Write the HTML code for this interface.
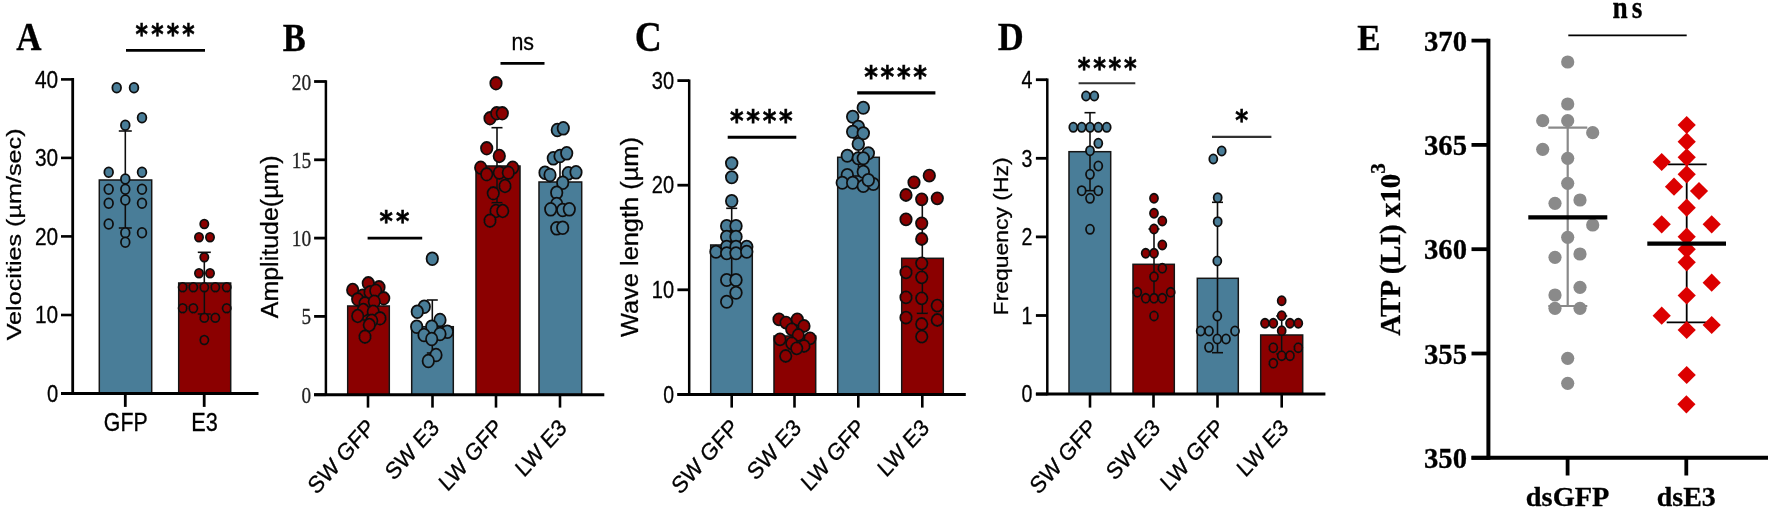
<!DOCTYPE html>
<html><head><meta charset="utf-8"><title>Figure</title>
<style>html,body{margin:0;padding:0;background:#fff}svg{display:block}</style>
</head><body>
<svg width="1772" height="510" viewBox="0 0 1772 510">
<defs><filter id="soft" x="0" y="0" width="1772" height="510" filterUnits="userSpaceOnUse"><feGaussianBlur stdDeviation="0.45"/></filter></defs>
<rect x="0" y="0" width="1772" height="510" fill="#ffffff"/>
<g filter="url(#soft)">
<text transform="translate(16.26 50.00) scale(0.3503 0.4075)" font-size="100" font-family='"Liberation Serif", serif' font-weight="bold" fill="#000" stroke="#000" stroke-width="0.79">A</text>
<text transform="translate(135.53 44.48) scale(0.812 1)" font-size="29.07" font-weight="bold" font-family='"DejaVu Sans", "Liberation Sans", sans-serif' letter-spacing="4.01" stroke="#000" stroke-width="0.6">****</text>
<line x1="126.0" y1="50.4" x2="205.0" y2="50.4" stroke="#000" stroke-width="2.9"/>
<text transform="translate(20.97 340.31) rotate(-90) scale(0.2519 0.1942)" font-size="100" font-family='"Liberation Sans", sans-serif' fill="#000" stroke="#000" stroke-width="1.35">Velocities (µm/sec)</text>
<line x1="61.0" y1="393.5" x2="72.7" y2="393.5" stroke="#000" stroke-width="2.6"/>
<text x="58.2" y="401.7" font-size="23" font-family='"Liberation Sans", sans-serif' text-anchor="end" textLength="11.2" lengthAdjust="spacingAndGlyphs" fill="#000" stroke="#000" stroke-width="0.3">0</text>
<line x1="61.0" y1="315.0" x2="72.7" y2="315.0" stroke="#000" stroke-width="2.6"/>
<text x="58.2" y="323.2" font-size="23" font-family='"Liberation Sans", sans-serif' text-anchor="end" textLength="23.2" lengthAdjust="spacingAndGlyphs" fill="#000" stroke="#000" stroke-width="0.3">10</text>
<line x1="61.0" y1="236.4" x2="72.7" y2="236.4" stroke="#000" stroke-width="2.6"/>
<text x="58.2" y="244.6" font-size="23" font-family='"Liberation Sans", sans-serif' text-anchor="end" textLength="23.2" lengthAdjust="spacingAndGlyphs" fill="#000" stroke="#000" stroke-width="0.3">20</text>
<line x1="61.0" y1="157.9" x2="72.7" y2="157.9" stroke="#000" stroke-width="2.6"/>
<text x="58.2" y="166.1" font-size="23" font-family='"Liberation Sans", sans-serif' text-anchor="end" textLength="23.2" lengthAdjust="spacingAndGlyphs" fill="#000" stroke="#000" stroke-width="0.3">30</text>
<line x1="61.0" y1="79.4" x2="72.7" y2="79.4" stroke="#000" stroke-width="2.6"/>
<text x="58.2" y="87.6" font-size="23" font-family='"Liberation Sans", sans-serif' text-anchor="end" textLength="23.2" lengthAdjust="spacingAndGlyphs" fill="#000" stroke="#000" stroke-width="0.3">40</text>
<rect x="99.3" y="180.0" width="52.4" height="213.5" fill="#4a7d98" stroke="#151515" stroke-width="1.5"/>
<rect x="178.7" y="283.0" width="52.0" height="110.5" fill="#8b0000" stroke="#151515" stroke-width="1.5"/>
<line x1="125.3" y1="131.0" x2="125.3" y2="228.0" stroke="#111" stroke-width="1.6"/>
<line x1="118.8" y1="131.0" x2="131.8" y2="131.0" stroke="#111" stroke-width="1.6"/>
<line x1="118.8" y1="228.0" x2="131.8" y2="228.0" stroke="#111" stroke-width="1.6"/>
<line x1="204.3" y1="252.3" x2="204.3" y2="314.0" stroke="#111" stroke-width="1.6"/>
<line x1="197.8" y1="252.3" x2="210.8" y2="252.3" stroke="#111" stroke-width="1.6"/>
<line x1="197.8" y1="314.0" x2="210.8" y2="314.0" stroke="#111" stroke-width="1.6"/>
<ellipse cx="116.7" cy="87.7" rx="4.35" ry="4.85" fill="#4a7d98" stroke="#111" stroke-width="1.8"/>
<ellipse cx="134.0" cy="87.7" rx="4.35" ry="4.85" fill="#4a7d98" stroke="#111" stroke-width="1.8"/>
<ellipse cx="142.0" cy="117.7" rx="4.35" ry="4.85" fill="#4a7d98" stroke="#111" stroke-width="1.8"/>
<ellipse cx="125.3" cy="125.3" rx="4.35" ry="4.85" fill="#4a7d98" stroke="#111" stroke-width="1.8"/>
<ellipse cx="108.7" cy="172.3" rx="4.35" ry="4.85" fill="#4a7d98" stroke="#111" stroke-width="1.8"/>
<ellipse cx="142.0" cy="172.3" rx="4.35" ry="4.85" fill="#4a7d98" stroke="#111" stroke-width="1.8"/>
<ellipse cx="125.3" cy="179.0" rx="4.35" ry="4.85" fill="#4a7d98" stroke="#111" stroke-width="1.8"/>
<ellipse cx="108.7" cy="189.3" rx="4.35" ry="4.85" fill="#4a7d98" stroke="#111" stroke-width="1.8"/>
<ellipse cx="125.3" cy="189.3" rx="4.35" ry="4.85" fill="#4a7d98" stroke="#111" stroke-width="1.8"/>
<ellipse cx="142.0" cy="189.3" rx="4.35" ry="4.85" fill="#4a7d98" stroke="#111" stroke-width="1.8"/>
<ellipse cx="108.7" cy="203.3" rx="4.35" ry="4.85" fill="#4a7d98" stroke="#111" stroke-width="1.8"/>
<ellipse cx="125.3" cy="200.0" rx="4.35" ry="4.85" fill="#4a7d98" stroke="#111" stroke-width="1.8"/>
<ellipse cx="142.0" cy="203.3" rx="4.35" ry="4.85" fill="#4a7d98" stroke="#111" stroke-width="1.8"/>
<ellipse cx="108.7" cy="224.0" rx="4.35" ry="4.85" fill="#4a7d98" stroke="#111" stroke-width="1.8"/>
<ellipse cx="142.0" cy="232.7" rx="4.35" ry="4.85" fill="#4a7d98" stroke="#111" stroke-width="1.8"/>
<ellipse cx="125.3" cy="232.7" rx="4.35" ry="4.85" fill="#4a7d98" stroke="#111" stroke-width="1.8"/>
<ellipse cx="125.3" cy="242.3" rx="4.35" ry="4.85" fill="#4a7d98" stroke="#111" stroke-width="1.8"/>
<ellipse cx="204.3" cy="224.0" rx="4.1" ry="4.4" fill="#8b0000" stroke="#111" stroke-width="1.8"/>
<ellipse cx="199.0" cy="237.3" rx="4.1" ry="4.4" fill="#8b0000" stroke="#111" stroke-width="1.8"/>
<ellipse cx="210.0" cy="237.3" rx="4.1" ry="4.4" fill="#8b0000" stroke="#111" stroke-width="1.8"/>
<ellipse cx="204.3" cy="257.3" rx="4.1" ry="4.4" fill="#8b0000" stroke="#111" stroke-width="1.8"/>
<ellipse cx="199.0" cy="273.3" rx="4.1" ry="4.4" fill="#8b0000" stroke="#111" stroke-width="1.8"/>
<ellipse cx="210.0" cy="273.3" rx="4.1" ry="4.4" fill="#8b0000" stroke="#111" stroke-width="1.8"/>
<ellipse cx="182.7" cy="287.3" rx="4.1" ry="4.4" fill="#8b0000" stroke="#111" stroke-width="1.8"/>
<ellipse cx="193.3" cy="287.3" rx="4.1" ry="4.4" fill="#8b0000" stroke="#111" stroke-width="1.8"/>
<ellipse cx="204.3" cy="287.3" rx="4.1" ry="4.4" fill="#8b0000" stroke="#111" stroke-width="1.8"/>
<ellipse cx="215.3" cy="287.3" rx="4.1" ry="4.4" fill="#8b0000" stroke="#111" stroke-width="1.8"/>
<ellipse cx="226.7" cy="287.3" rx="4.1" ry="4.4" fill="#8b0000" stroke="#111" stroke-width="1.8"/>
<ellipse cx="182.7" cy="308.3" rx="4.1" ry="4.4" fill="#8b0000" stroke="#111" stroke-width="1.8"/>
<ellipse cx="193.3" cy="308.3" rx="4.1" ry="4.4" fill="#8b0000" stroke="#111" stroke-width="1.8"/>
<ellipse cx="226.7" cy="308.3" rx="4.1" ry="4.4" fill="#8b0000" stroke="#111" stroke-width="1.8"/>
<ellipse cx="204.3" cy="317.7" rx="4.1" ry="4.4" fill="#8b0000" stroke="#111" stroke-width="1.8"/>
<ellipse cx="215.3" cy="317.7" rx="4.1" ry="4.4" fill="#8b0000" stroke="#111" stroke-width="1.8"/>
<ellipse cx="204.3" cy="340.0" rx="4.1" ry="4.4" fill="#8b0000" stroke="#111" stroke-width="1.8"/>
<line x1="72.7" y1="78.1" x2="72.7" y2="394.8" stroke="#000" stroke-width="2.8"/>
<line x1="61.0" y1="393.5" x2="258.5" y2="393.5" stroke="#000" stroke-width="3.0"/>
<line x1="125.3" y1="393.5" x2="125.3" y2="406.9" stroke="#000" stroke-width="2.8"/>
<text transform="translate(103.83 431.26) scale(0.2130 0.2486)" font-size="100" font-family='"Liberation Sans", sans-serif' fill="#000" stroke="#000" stroke-width="1.30">GFP</text>
<line x1="204.2" y1="393.5" x2="204.2" y2="406.9" stroke="#000" stroke-width="2.8"/>
<text transform="translate(191.32 431.26) scale(0.2169 0.2486)" font-size="100" font-family='"Liberation Sans", sans-serif' fill="#000" stroke="#000" stroke-width="1.29">E3</text>
<text transform="translate(282.83 51.18) scale(0.3453 0.4014)" font-size="100" font-family='"Liberation Serif", serif' font-weight="bold" fill="#000" stroke="#000" stroke-width="0.80">B</text>
<line x1="314.1" y1="394.7" x2="325.9" y2="394.7" stroke="#000" stroke-width="2.8"/>
<text x="311.2" y="402.7" font-size="23.3" font-family='"Liberation Serif", serif' text-anchor="end" textLength="9.6" lengthAdjust="spacingAndGlyphs" fill="#222" stroke="#222" stroke-width="0.3">0</text>
<line x1="314.1" y1="316.4" x2="325.9" y2="316.4" stroke="#000" stroke-width="2.8"/>
<text x="311.2" y="324.4" font-size="23.3" font-family='"Liberation Serif", serif' text-anchor="end" textLength="9.6" lengthAdjust="spacingAndGlyphs" fill="#222" stroke="#222" stroke-width="0.3">5</text>
<line x1="314.1" y1="238.1" x2="325.9" y2="238.1" stroke="#000" stroke-width="2.8"/>
<text x="311.2" y="246.1" font-size="23.3" font-family='"Liberation Serif", serif' text-anchor="end" textLength="19.4" lengthAdjust="spacingAndGlyphs" fill="#222" stroke="#222" stroke-width="0.3">10</text>
<line x1="314.1" y1="159.8" x2="325.9" y2="159.8" stroke="#000" stroke-width="2.8"/>
<text x="311.2" y="167.8" font-size="23.3" font-family='"Liberation Serif", serif' text-anchor="end" textLength="19.4" lengthAdjust="spacingAndGlyphs" fill="#222" stroke="#222" stroke-width="0.3">15</text>
<line x1="314.1" y1="81.5" x2="325.9" y2="81.5" stroke="#000" stroke-width="2.8"/>
<text x="311.2" y="89.5" font-size="23.3" font-family='"Liberation Serif", serif' text-anchor="end" textLength="19.4" lengthAdjust="spacingAndGlyphs" fill="#222" stroke="#222" stroke-width="0.3">20</text>
<text transform="translate(277.54 318.25) rotate(-90) scale(0.2499 0.2392)" font-size="100" font-family='"Liberation Sans", sans-serif' fill="#000" stroke="#000" stroke-width="1.23">Amplitude(µm)</text>
<rect x="347.7" y="306.0" width="41.6" height="88.7" fill="#8b0000" stroke="#151515" stroke-width="1.5"/>
<rect x="411.7" y="326.7" width="41.6" height="68.0" fill="#4a7d98" stroke="#151515" stroke-width="1.5"/>
<rect x="476.0" y="166.0" width="44.0" height="228.7" fill="#8b0000" stroke="#151515" stroke-width="1.5"/>
<rect x="539.0" y="182.0" width="42.7" height="212.7" fill="#4a7d98" stroke="#151515" stroke-width="1.5"/>
<line x1="368.5" y1="292.0" x2="368.5" y2="320.0" stroke="#111" stroke-width="1.6"/>
<line x1="363.0" y1="292.0" x2="374.0" y2="292.0" stroke="#111" stroke-width="1.6"/>
<line x1="363.0" y1="320.0" x2="374.0" y2="320.0" stroke="#111" stroke-width="1.6"/>
<line x1="432.3" y1="300.0" x2="432.3" y2="353.0" stroke="#111" stroke-width="1.6"/>
<line x1="426.8" y1="300.0" x2="437.8" y2="300.0" stroke="#111" stroke-width="1.6"/>
<line x1="426.8" y1="353.0" x2="437.8" y2="353.0" stroke="#111" stroke-width="1.6"/>
<line x1="497.0" y1="127.7" x2="497.0" y2="202.7" stroke="#111" stroke-width="1.6"/>
<line x1="491.5" y1="127.7" x2="502.5" y2="127.7" stroke="#111" stroke-width="1.6"/>
<line x1="491.5" y1="202.7" x2="502.5" y2="202.7" stroke="#111" stroke-width="1.6"/>
<line x1="560.0" y1="157.0" x2="560.0" y2="207.0" stroke="#111" stroke-width="1.6"/>
<line x1="554.5" y1="157.0" x2="565.5" y2="157.0" stroke="#111" stroke-width="1.6"/>
<line x1="554.5" y1="207.0" x2="565.5" y2="207.0" stroke="#111" stroke-width="1.6"/>
<ellipse cx="352.7" cy="290.0" rx="5.7" ry="6.3" fill="#8b0000" stroke="#111" stroke-width="1.8"/>
<ellipse cx="368.3" cy="283.3" rx="5.7" ry="6.3" fill="#8b0000" stroke="#111" stroke-width="1.8"/>
<ellipse cx="379.0" cy="287.3" rx="5.7" ry="6.3" fill="#8b0000" stroke="#111" stroke-width="1.8"/>
<ellipse cx="362.7" cy="295.7" rx="5.7" ry="6.3" fill="#8b0000" stroke="#111" stroke-width="1.8"/>
<ellipse cx="370.0" cy="292.3" rx="5.7" ry="6.3" fill="#8b0000" stroke="#111" stroke-width="1.8"/>
<ellipse cx="375.7" cy="290.7" rx="5.7" ry="6.3" fill="#8b0000" stroke="#111" stroke-width="1.8"/>
<ellipse cx="383.7" cy="298.3" rx="5.7" ry="6.3" fill="#8b0000" stroke="#111" stroke-width="1.8"/>
<ellipse cx="357.7" cy="299.3" rx="5.7" ry="6.3" fill="#8b0000" stroke="#111" stroke-width="1.8"/>
<ellipse cx="365.0" cy="303.3" rx="5.7" ry="6.3" fill="#8b0000" stroke="#111" stroke-width="1.8"/>
<ellipse cx="374.3" cy="301.7" rx="5.7" ry="6.3" fill="#8b0000" stroke="#111" stroke-width="1.8"/>
<ellipse cx="363.3" cy="310.0" rx="5.7" ry="6.3" fill="#8b0000" stroke="#111" stroke-width="1.8"/>
<ellipse cx="373.3" cy="311.7" rx="5.7" ry="6.3" fill="#8b0000" stroke="#111" stroke-width="1.8"/>
<ellipse cx="357.7" cy="316.0" rx="5.7" ry="6.3" fill="#8b0000" stroke="#111" stroke-width="1.8"/>
<ellipse cx="380.0" cy="318.3" rx="5.7" ry="6.3" fill="#8b0000" stroke="#111" stroke-width="1.8"/>
<ellipse cx="371.7" cy="320.7" rx="5.7" ry="6.3" fill="#8b0000" stroke="#111" stroke-width="1.8"/>
<ellipse cx="369.3" cy="325.0" rx="5.7" ry="6.3" fill="#8b0000" stroke="#111" stroke-width="1.8"/>
<ellipse cx="365.0" cy="336.7" rx="5.7" ry="6.3" fill="#8b0000" stroke="#111" stroke-width="1.8"/>
<ellipse cx="432.3" cy="258.7" rx="5.7" ry="6.4" fill="#4a7d98" stroke="#111" stroke-width="1.8"/>
<ellipse cx="424.3" cy="306.7" rx="5.7" ry="6.4" fill="#4a7d98" stroke="#111" stroke-width="1.8"/>
<ellipse cx="417.3" cy="311.7" rx="5.7" ry="6.4" fill="#4a7d98" stroke="#111" stroke-width="1.8"/>
<ellipse cx="440.0" cy="320.0" rx="5.7" ry="6.4" fill="#4a7d98" stroke="#111" stroke-width="1.8"/>
<ellipse cx="431.7" cy="326.7" rx="5.7" ry="6.4" fill="#4a7d98" stroke="#111" stroke-width="1.8"/>
<ellipse cx="416.7" cy="326.7" rx="5.7" ry="6.4" fill="#4a7d98" stroke="#111" stroke-width="1.8"/>
<ellipse cx="447.3" cy="331.7" rx="5.7" ry="6.4" fill="#4a7d98" stroke="#111" stroke-width="1.8"/>
<ellipse cx="424.0" cy="335.0" rx="5.7" ry="6.4" fill="#4a7d98" stroke="#111" stroke-width="1.8"/>
<ellipse cx="440.0" cy="334.0" rx="5.7" ry="6.4" fill="#4a7d98" stroke="#111" stroke-width="1.8"/>
<ellipse cx="431.7" cy="339.0" rx="5.7" ry="6.4" fill="#4a7d98" stroke="#111" stroke-width="1.8"/>
<ellipse cx="436.0" cy="355.0" rx="5.7" ry="6.4" fill="#4a7d98" stroke="#111" stroke-width="1.8"/>
<ellipse cx="428.3" cy="361.0" rx="5.7" ry="6.4" fill="#4a7d98" stroke="#111" stroke-width="1.8"/>
<ellipse cx="496.0" cy="83.3" rx="5.7" ry="6.3" fill="#8b0000" stroke="#111" stroke-width="1.8"/>
<ellipse cx="490.0" cy="118.3" rx="5.7" ry="6.3" fill="#8b0000" stroke="#111" stroke-width="1.8"/>
<ellipse cx="496.7" cy="113.3" rx="5.7" ry="6.3" fill="#8b0000" stroke="#111" stroke-width="1.8"/>
<ellipse cx="502.3" cy="113.3" rx="5.7" ry="6.3" fill="#8b0000" stroke="#111" stroke-width="1.8"/>
<ellipse cx="486.7" cy="148.3" rx="5.7" ry="6.3" fill="#8b0000" stroke="#111" stroke-width="1.8"/>
<ellipse cx="499.3" cy="156.0" rx="5.7" ry="6.3" fill="#8b0000" stroke="#111" stroke-width="1.8"/>
<ellipse cx="480.7" cy="167.7" rx="5.7" ry="6.3" fill="#8b0000" stroke="#111" stroke-width="1.8"/>
<ellipse cx="512.7" cy="167.7" rx="5.7" ry="6.3" fill="#8b0000" stroke="#111" stroke-width="1.8"/>
<ellipse cx="486.7" cy="174.3" rx="5.7" ry="6.3" fill="#8b0000" stroke="#111" stroke-width="1.8"/>
<ellipse cx="499.3" cy="172.7" rx="5.7" ry="6.3" fill="#8b0000" stroke="#111" stroke-width="1.8"/>
<ellipse cx="508.3" cy="172.7" rx="5.7" ry="6.3" fill="#8b0000" stroke="#111" stroke-width="1.8"/>
<ellipse cx="505.0" cy="186.0" rx="5.7" ry="6.3" fill="#8b0000" stroke="#111" stroke-width="1.8"/>
<ellipse cx="493.3" cy="193.3" rx="5.7" ry="6.3" fill="#8b0000" stroke="#111" stroke-width="1.8"/>
<ellipse cx="496.0" cy="211.0" rx="5.7" ry="6.3" fill="#8b0000" stroke="#111" stroke-width="1.8"/>
<ellipse cx="502.7" cy="211.0" rx="5.7" ry="6.3" fill="#8b0000" stroke="#111" stroke-width="1.8"/>
<ellipse cx="490.0" cy="220.7" rx="5.7" ry="6.3" fill="#8b0000" stroke="#111" stroke-width="1.8"/>
<ellipse cx="557.3" cy="130.0" rx="5.7" ry="6.4" fill="#4a7d98" stroke="#111" stroke-width="1.8"/>
<ellipse cx="563.3" cy="128.3" rx="5.7" ry="6.4" fill="#4a7d98" stroke="#111" stroke-width="1.8"/>
<ellipse cx="553.3" cy="158.3" rx="5.7" ry="6.4" fill="#4a7d98" stroke="#111" stroke-width="1.8"/>
<ellipse cx="560.0" cy="156.0" rx="5.7" ry="6.4" fill="#4a7d98" stroke="#111" stroke-width="1.8"/>
<ellipse cx="566.7" cy="153.3" rx="5.7" ry="6.4" fill="#4a7d98" stroke="#111" stroke-width="1.8"/>
<ellipse cx="545.0" cy="172.7" rx="5.7" ry="6.4" fill="#4a7d98" stroke="#111" stroke-width="1.8"/>
<ellipse cx="550.0" cy="175.0" rx="5.7" ry="6.4" fill="#4a7d98" stroke="#111" stroke-width="1.8"/>
<ellipse cx="568.3" cy="173.3" rx="5.7" ry="6.4" fill="#4a7d98" stroke="#111" stroke-width="1.8"/>
<ellipse cx="576.0" cy="172.3" rx="5.7" ry="6.4" fill="#4a7d98" stroke="#111" stroke-width="1.8"/>
<ellipse cx="562.7" cy="182.7" rx="5.7" ry="6.4" fill="#4a7d98" stroke="#111" stroke-width="1.8"/>
<ellipse cx="556.7" cy="192.7" rx="5.7" ry="6.4" fill="#4a7d98" stroke="#111" stroke-width="1.8"/>
<ellipse cx="556.7" cy="204.0" rx="5.7" ry="6.4" fill="#4a7d98" stroke="#111" stroke-width="1.8"/>
<ellipse cx="550.7" cy="209.3" rx="5.7" ry="6.4" fill="#4a7d98" stroke="#111" stroke-width="1.8"/>
<ellipse cx="562.7" cy="210.0" rx="5.7" ry="6.4" fill="#4a7d98" stroke="#111" stroke-width="1.8"/>
<ellipse cx="569.3" cy="209.3" rx="5.7" ry="6.4" fill="#4a7d98" stroke="#111" stroke-width="1.8"/>
<ellipse cx="556.7" cy="228.3" rx="5.7" ry="6.4" fill="#4a7d98" stroke="#111" stroke-width="1.8"/>
<ellipse cx="562.7" cy="227.7" rx="5.7" ry="6.4" fill="#4a7d98" stroke="#111" stroke-width="1.8"/>
<text transform="translate(379.44 230.90) scale(0.896 1)" font-size="28.42" font-weight="bold" font-family='"DejaVu Sans", "Liberation Sans", sans-serif' letter-spacing="3.66" stroke="#000" stroke-width="0.6">**</text>
<line x1="367.6" y1="238.1" x2="422.2" y2="238.1" stroke="#000" stroke-width="2.9"/>
<text transform="translate(511.38 49.66) scale(0.2139 0.2464)" font-size="100" font-family='"Liberation Sans", sans-serif' fill="#000" stroke="#000" stroke-width="1.30">ns</text>
<line x1="500.5" y1="63.4" x2="544.5" y2="63.4" stroke="#000" stroke-width="2.9"/>
<line x1="325.9" y1="80.3" x2="325.9" y2="395.9" stroke="#000" stroke-width="2.5"/>
<line x1="314.1" y1="394.7" x2="604.3" y2="394.7" stroke="#000" stroke-width="3.0"/>
<line x1="368.0" y1="394.7" x2="368.0" y2="407.6" stroke="#000" stroke-width="2.6"/>
<text transform="translate(376.0 429.0) scale(1 1.12) rotate(-45)" font-size="21.3" font-family='"Liberation Sans", sans-serif' text-anchor="end" stroke="#000" stroke-width="0.3">SW GFP</text>
<line x1="432.5" y1="394.7" x2="432.5" y2="407.6" stroke="#000" stroke-width="2.6"/>
<text transform="translate(440.5 429.0) scale(1 1.12) rotate(-45)" font-size="21.3" font-family='"Liberation Sans", sans-serif' text-anchor="end" stroke="#000" stroke-width="0.3">SW E3</text>
<line x1="496.0" y1="394.7" x2="496.0" y2="407.6" stroke="#000" stroke-width="2.6"/>
<text transform="translate(504.0 429.0) scale(1 1.12) rotate(-45)" font-size="21.3" font-family='"Liberation Sans", sans-serif' text-anchor="end" stroke="#000" stroke-width="0.3">LW GFP</text>
<line x1="560.0" y1="394.7" x2="560.0" y2="407.6" stroke="#000" stroke-width="2.6"/>
<text transform="translate(568.0 429.0) scale(1 1.12) rotate(-45)" font-size="21.3" font-family='"Liberation Sans", sans-serif' text-anchor="end" stroke="#000" stroke-width="0.3">LW E3</text>
<text transform="translate(634.77 50.59) scale(0.3751 0.4153)" font-size="100" font-family='"Liberation Serif", serif' font-weight="bold" fill="#000" stroke="#000" stroke-width="0.76">C</text>
<line x1="677.4" y1="394.4" x2="689.2" y2="394.4" stroke="#000" stroke-width="2.8"/>
<text x="674.1" y="402.6" font-size="23" font-family='"Liberation Sans", sans-serif' text-anchor="end" textLength="10.8" lengthAdjust="spacingAndGlyphs" fill="#000" stroke="#000" stroke-width="0.3">0</text>
<line x1="677.4" y1="289.8" x2="689.2" y2="289.8" stroke="#000" stroke-width="2.8"/>
<text x="674.1" y="298.0" font-size="23" font-family='"Liberation Sans", sans-serif' text-anchor="end" textLength="22.3" lengthAdjust="spacingAndGlyphs" fill="#000" stroke="#000" stroke-width="0.3">10</text>
<line x1="677.4" y1="185.2" x2="689.2" y2="185.2" stroke="#000" stroke-width="2.8"/>
<text x="674.1" y="193.4" font-size="23" font-family='"Liberation Sans", sans-serif' text-anchor="end" textLength="22.3" lengthAdjust="spacingAndGlyphs" fill="#000" stroke="#000" stroke-width="0.3">20</text>
<line x1="677.4" y1="80.6" x2="689.2" y2="80.6" stroke="#000" stroke-width="2.8"/>
<text x="674.1" y="88.8" font-size="23" font-family='"Liberation Sans", sans-serif' text-anchor="end" textLength="22.3" lengthAdjust="spacingAndGlyphs" fill="#000" stroke="#000" stroke-width="0.3">30</text>
<text transform="translate(638.31 337.01) rotate(-90) scale(0.2540 0.2307)" font-size="100" font-family='"Liberation Sans", sans-serif' fill="#000" stroke="#000" stroke-width="1.24">Wave length (µm)</text>
<rect x="710.7" y="245.0" width="41.6" height="149.4" fill="#4a7d98" stroke="#151515" stroke-width="1.5"/>
<rect x="774.0" y="336.0" width="41.7" height="58.4" fill="#8b0000" stroke="#151515" stroke-width="1.5"/>
<rect x="837.7" y="157.3" width="41.6" height="237.1" fill="#4a7d98" stroke="#151515" stroke-width="1.5"/>
<rect x="901.7" y="258.3" width="41.6" height="136.1" fill="#8b0000" stroke="#151515" stroke-width="1.5"/>
<line x1="731.7" y1="208.3" x2="731.7" y2="282.0" stroke="#111" stroke-width="1.6"/>
<line x1="726.2" y1="208.3" x2="737.2" y2="208.3" stroke="#111" stroke-width="1.6"/>
<line x1="726.2" y1="282.0" x2="737.2" y2="282.0" stroke="#111" stroke-width="1.6"/>
<line x1="795.0" y1="326.0" x2="795.0" y2="346.0" stroke="#111" stroke-width="1.6"/>
<line x1="789.5" y1="326.0" x2="800.5" y2="326.0" stroke="#111" stroke-width="1.6"/>
<line x1="789.5" y1="346.0" x2="800.5" y2="346.0" stroke="#111" stroke-width="1.6"/>
<line x1="858.5" y1="138.0" x2="858.5" y2="176.0" stroke="#111" stroke-width="1.6"/>
<line x1="853.0" y1="138.0" x2="864.0" y2="138.0" stroke="#111" stroke-width="1.6"/>
<line x1="853.0" y1="176.0" x2="864.0" y2="176.0" stroke="#111" stroke-width="1.6"/>
<line x1="922.3" y1="199.0" x2="922.3" y2="313.3" stroke="#111" stroke-width="1.6"/>
<line x1="916.8" y1="199.0" x2="927.8" y2="199.0" stroke="#111" stroke-width="1.6"/>
<line x1="916.8" y1="313.3" x2="927.8" y2="313.3" stroke="#111" stroke-width="1.6"/>
<ellipse cx="731.7" cy="163.3" rx="5.8" ry="6.15" fill="#4a7d98" stroke="#111" stroke-width="1.8"/>
<ellipse cx="731.7" cy="177.3" rx="5.8" ry="6.15" fill="#4a7d98" stroke="#111" stroke-width="1.8"/>
<ellipse cx="731.7" cy="201.0" rx="5.8" ry="6.15" fill="#4a7d98" stroke="#111" stroke-width="1.8"/>
<ellipse cx="726.7" cy="226.0" rx="5.8" ry="6.15" fill="#4a7d98" stroke="#111" stroke-width="1.8"/>
<ellipse cx="736.0" cy="226.0" rx="5.8" ry="6.15" fill="#4a7d98" stroke="#111" stroke-width="1.8"/>
<ellipse cx="726.7" cy="236.7" rx="5.8" ry="6.15" fill="#4a7d98" stroke="#111" stroke-width="1.8"/>
<ellipse cx="736.0" cy="236.7" rx="5.8" ry="6.15" fill="#4a7d98" stroke="#111" stroke-width="1.8"/>
<ellipse cx="726.7" cy="246.7" rx="5.8" ry="6.15" fill="#4a7d98" stroke="#111" stroke-width="1.8"/>
<ellipse cx="736.0" cy="246.7" rx="5.8" ry="6.15" fill="#4a7d98" stroke="#111" stroke-width="1.8"/>
<ellipse cx="746.7" cy="246.7" rx="5.8" ry="6.15" fill="#4a7d98" stroke="#111" stroke-width="1.8"/>
<ellipse cx="716.0" cy="251.7" rx="5.8" ry="6.15" fill="#4a7d98" stroke="#111" stroke-width="1.8"/>
<ellipse cx="726.7" cy="253.3" rx="5.8" ry="6.15" fill="#4a7d98" stroke="#111" stroke-width="1.8"/>
<ellipse cx="736.0" cy="253.3" rx="5.8" ry="6.15" fill="#4a7d98" stroke="#111" stroke-width="1.8"/>
<ellipse cx="746.7" cy="251.7" rx="5.8" ry="6.15" fill="#4a7d98" stroke="#111" stroke-width="1.8"/>
<ellipse cx="726.7" cy="280.0" rx="5.8" ry="6.15" fill="#4a7d98" stroke="#111" stroke-width="1.8"/>
<ellipse cx="736.0" cy="280.0" rx="5.8" ry="6.15" fill="#4a7d98" stroke="#111" stroke-width="1.8"/>
<ellipse cx="736.0" cy="292.7" rx="5.8" ry="6.15" fill="#4a7d98" stroke="#111" stroke-width="1.8"/>
<ellipse cx="726.7" cy="301.7" rx="5.8" ry="6.15" fill="#4a7d98" stroke="#111" stroke-width="1.8"/>
<ellipse cx="779.0" cy="319.3" rx="5.7" ry="6.0" fill="#8b0000" stroke="#111" stroke-width="1.8"/>
<ellipse cx="786.0" cy="322.7" rx="5.7" ry="6.0" fill="#8b0000" stroke="#111" stroke-width="1.8"/>
<ellipse cx="797.3" cy="319.3" rx="5.7" ry="6.0" fill="#8b0000" stroke="#111" stroke-width="1.8"/>
<ellipse cx="804.0" cy="326.0" rx="5.7" ry="6.0" fill="#8b0000" stroke="#111" stroke-width="1.8"/>
<ellipse cx="791.7" cy="329.3" rx="5.7" ry="6.0" fill="#8b0000" stroke="#111" stroke-width="1.8"/>
<ellipse cx="798.3" cy="335.0" rx="5.7" ry="6.0" fill="#8b0000" stroke="#111" stroke-width="1.8"/>
<ellipse cx="780.0" cy="339.3" rx="5.7" ry="6.0" fill="#8b0000" stroke="#111" stroke-width="1.8"/>
<ellipse cx="810.0" cy="338.3" rx="5.7" ry="6.0" fill="#8b0000" stroke="#111" stroke-width="1.8"/>
<ellipse cx="791.7" cy="343.3" rx="5.7" ry="6.0" fill="#8b0000" stroke="#111" stroke-width="1.8"/>
<ellipse cx="804.0" cy="346.0" rx="5.7" ry="6.0" fill="#8b0000" stroke="#111" stroke-width="1.8"/>
<ellipse cx="796.7" cy="348.3" rx="5.7" ry="6.0" fill="#8b0000" stroke="#111" stroke-width="1.8"/>
<ellipse cx="785.7" cy="356.0" rx="5.7" ry="6.0" fill="#8b0000" stroke="#111" stroke-width="1.8"/>
<ellipse cx="863.3" cy="107.7" rx="5.8" ry="6.15" fill="#4a7d98" stroke="#111" stroke-width="1.8"/>
<ellipse cx="852.7" cy="116.7" rx="5.8" ry="6.15" fill="#4a7d98" stroke="#111" stroke-width="1.8"/>
<ellipse cx="858.3" cy="126.7" rx="5.8" ry="6.15" fill="#4a7d98" stroke="#111" stroke-width="1.8"/>
<ellipse cx="852.7" cy="131.7" rx="5.8" ry="6.15" fill="#4a7d98" stroke="#111" stroke-width="1.8"/>
<ellipse cx="863.3" cy="133.3" rx="5.8" ry="6.15" fill="#4a7d98" stroke="#111" stroke-width="1.8"/>
<ellipse cx="858.3" cy="144.0" rx="5.8" ry="6.15" fill="#4a7d98" stroke="#111" stroke-width="1.8"/>
<ellipse cx="847.3" cy="155.7" rx="5.8" ry="6.15" fill="#4a7d98" stroke="#111" stroke-width="1.8"/>
<ellipse cx="868.3" cy="153.3" rx="5.8" ry="6.15" fill="#4a7d98" stroke="#111" stroke-width="1.8"/>
<ellipse cx="858.3" cy="158.3" rx="5.8" ry="6.15" fill="#4a7d98" stroke="#111" stroke-width="1.8"/>
<ellipse cx="863.3" cy="158.3" rx="5.8" ry="6.15" fill="#4a7d98" stroke="#111" stroke-width="1.8"/>
<ellipse cx="863.3" cy="171.7" rx="5.8" ry="6.15" fill="#4a7d98" stroke="#111" stroke-width="1.8"/>
<ellipse cx="847.3" cy="175.0" rx="5.8" ry="6.15" fill="#4a7d98" stroke="#111" stroke-width="1.8"/>
<ellipse cx="842.3" cy="182.7" rx="5.8" ry="6.15" fill="#4a7d98" stroke="#111" stroke-width="1.8"/>
<ellipse cx="852.7" cy="182.7" rx="5.8" ry="6.15" fill="#4a7d98" stroke="#111" stroke-width="1.8"/>
<ellipse cx="863.3" cy="186.0" rx="5.8" ry="6.15" fill="#4a7d98" stroke="#111" stroke-width="1.8"/>
<ellipse cx="873.3" cy="184.0" rx="5.8" ry="6.15" fill="#4a7d98" stroke="#111" stroke-width="1.8"/>
<ellipse cx="868.3" cy="180.0" rx="5.8" ry="6.15" fill="#4a7d98" stroke="#111" stroke-width="1.8"/>
<ellipse cx="929.3" cy="175.7" rx="5.7" ry="6.0" fill="#8b0000" stroke="#111" stroke-width="1.8"/>
<ellipse cx="914.0" cy="182.3" rx="5.7" ry="6.0" fill="#8b0000" stroke="#111" stroke-width="1.8"/>
<ellipse cx="906.0" cy="195.0" rx="5.7" ry="6.0" fill="#8b0000" stroke="#111" stroke-width="1.8"/>
<ellipse cx="921.7" cy="199.3" rx="5.7" ry="6.0" fill="#8b0000" stroke="#111" stroke-width="1.8"/>
<ellipse cx="937.3" cy="198.3" rx="5.7" ry="6.0" fill="#8b0000" stroke="#111" stroke-width="1.8"/>
<ellipse cx="906.0" cy="219.3" rx="5.7" ry="6.0" fill="#8b0000" stroke="#111" stroke-width="1.8"/>
<ellipse cx="921.7" cy="223.3" rx="5.7" ry="6.0" fill="#8b0000" stroke="#111" stroke-width="1.8"/>
<ellipse cx="921.7" cy="239.0" rx="5.7" ry="6.0" fill="#8b0000" stroke="#111" stroke-width="1.8"/>
<ellipse cx="921.7" cy="263.3" rx="5.7" ry="6.0" fill="#8b0000" stroke="#111" stroke-width="1.8"/>
<ellipse cx="906.0" cy="272.3" rx="5.7" ry="6.0" fill="#8b0000" stroke="#111" stroke-width="1.8"/>
<ellipse cx="921.7" cy="277.3" rx="5.7" ry="6.0" fill="#8b0000" stroke="#111" stroke-width="1.8"/>
<ellipse cx="906.0" cy="297.3" rx="5.7" ry="6.0" fill="#8b0000" stroke="#111" stroke-width="1.8"/>
<ellipse cx="921.7" cy="298.3" rx="5.7" ry="6.0" fill="#8b0000" stroke="#111" stroke-width="1.8"/>
<ellipse cx="937.3" cy="305.7" rx="5.7" ry="6.0" fill="#8b0000" stroke="#111" stroke-width="1.8"/>
<ellipse cx="906.0" cy="317.7" rx="5.7" ry="6.0" fill="#8b0000" stroke="#111" stroke-width="1.8"/>
<ellipse cx="937.3" cy="320.0" rx="5.7" ry="6.0" fill="#8b0000" stroke="#111" stroke-width="1.8"/>
<ellipse cx="921.7" cy="324.0" rx="5.7" ry="6.0" fill="#8b0000" stroke="#111" stroke-width="1.8"/>
<ellipse cx="921.7" cy="336.7" rx="5.7" ry="6.0" fill="#8b0000" stroke="#111" stroke-width="1.8"/>
<text transform="translate(729.98 130.95) scale(0.847 1)" font-size="30.79" font-weight="bold" font-family='"DejaVu Sans", "Liberation Sans", sans-serif' letter-spacing="3.18" stroke="#000" stroke-width="0.6">****</text>
<line x1="727.7" y1="137.2" x2="796.3" y2="137.2" stroke="#000" stroke-width="3.1"/>
<text transform="translate(864.28 87.11) scale(0.841 1)" font-size="31.01" font-weight="bold" font-family='"DejaVu Sans", "Liberation Sans", sans-serif' letter-spacing="3.20" stroke="#000" stroke-width="0.6">****</text>
<line x1="857.2" y1="92.9" x2="935.4" y2="92.9" stroke="#000" stroke-width="3.1"/>
<line x1="689.2" y1="79.4" x2="689.2" y2="395.6" stroke="#000" stroke-width="2.5"/>
<line x1="677.4" y1="394.4" x2="965.8" y2="394.4" stroke="#000" stroke-width="3.0"/>
<line x1="731.7" y1="394.4" x2="731.7" y2="407.6" stroke="#000" stroke-width="2.6"/>
<text transform="translate(739.7 429.0) scale(1 1.12) rotate(-45)" font-size="21.3" font-family='"Liberation Sans", sans-serif' text-anchor="end" stroke="#000" stroke-width="0.3">SW GFP</text>
<line x1="794.5" y1="394.4" x2="794.5" y2="407.6" stroke="#000" stroke-width="2.6"/>
<text transform="translate(802.5 429.0) scale(1 1.12) rotate(-45)" font-size="21.3" font-family='"Liberation Sans", sans-serif' text-anchor="end" stroke="#000" stroke-width="0.3">SW E3</text>
<line x1="858.3" y1="394.4" x2="858.3" y2="407.6" stroke="#000" stroke-width="2.6"/>
<text transform="translate(866.3 429.0) scale(1 1.12) rotate(-45)" font-size="21.3" font-family='"Liberation Sans", sans-serif' text-anchor="end" stroke="#000" stroke-width="0.3">LW GFP</text>
<line x1="922.3" y1="394.4" x2="922.3" y2="407.6" stroke="#000" stroke-width="2.6"/>
<text transform="translate(930.3 429.0) scale(1 1.12) rotate(-45)" font-size="21.3" font-family='"Liberation Sans", sans-serif' text-anchor="end" stroke="#000" stroke-width="0.3">LW E3</text>
<text transform="translate(997.77 50.22) scale(0.3599 0.4020)" font-size="100" font-family='"Liberation Serif", serif' font-weight="bold" fill="#000" stroke="#000" stroke-width="0.79">D</text>
<line x1="1035.9" y1="394.1" x2="1047.3" y2="394.1" stroke="#000" stroke-width="2.8"/>
<text x="1032.5" y="402.3" font-size="23" font-family='"Liberation Sans", sans-serif' text-anchor="end" textLength="10.9" lengthAdjust="spacingAndGlyphs" fill="#000" stroke="#000" stroke-width="0.3">0</text>
<line x1="1035.9" y1="315.5" x2="1047.3" y2="315.5" stroke="#000" stroke-width="2.8"/>
<text x="1032.5" y="323.7" font-size="23" font-family='"Liberation Sans", sans-serif' text-anchor="end" textLength="10.9" lengthAdjust="spacingAndGlyphs" fill="#000" stroke="#000" stroke-width="0.3">1</text>
<line x1="1035.9" y1="236.9" x2="1047.3" y2="236.9" stroke="#000" stroke-width="2.8"/>
<text x="1032.5" y="245.1" font-size="23" font-family='"Liberation Sans", sans-serif' text-anchor="end" textLength="10.9" lengthAdjust="spacingAndGlyphs" fill="#000" stroke="#000" stroke-width="0.3">2</text>
<line x1="1035.9" y1="158.3" x2="1047.3" y2="158.3" stroke="#000" stroke-width="2.8"/>
<text x="1032.5" y="166.5" font-size="23" font-family='"Liberation Sans", sans-serif' text-anchor="end" textLength="10.9" lengthAdjust="spacingAndGlyphs" fill="#000" stroke="#000" stroke-width="0.3">3</text>
<line x1="1035.9" y1="79.7" x2="1047.3" y2="79.7" stroke="#000" stroke-width="2.8"/>
<text x="1032.5" y="87.9" font-size="23" font-family='"Liberation Sans", sans-serif' text-anchor="end" textLength="10.9" lengthAdjust="spacingAndGlyphs" fill="#000" stroke="#000" stroke-width="0.3">4</text>
<text transform="translate(1008.18 315.38) rotate(-90) scale(0.2294 0.2081)" font-size="100" font-family='"Liberation Sans", sans-serif' fill="#000" stroke="#000" stroke-width="1.37">Frequency (Hz)</text>
<rect x="1069.0" y="151.7" width="41.7" height="242.4" fill="#4a7d98" stroke="#151515" stroke-width="1.5"/>
<rect x="1133.0" y="264.3" width="41.3" height="129.8" fill="#8b0000" stroke="#151515" stroke-width="1.5"/>
<rect x="1197.3" y="278.3" width="41.0" height="115.8" fill="#4a7d98" stroke="#151515" stroke-width="1.5"/>
<rect x="1260.7" y="335.0" width="42.0" height="59.1" fill="#8b0000" stroke="#151515" stroke-width="1.5"/>
<line x1="1090.0" y1="112.7" x2="1090.0" y2="190.7" stroke="#111" stroke-width="1.6"/>
<line x1="1084.5" y1="112.7" x2="1095.5" y2="112.7" stroke="#111" stroke-width="1.6"/>
<line x1="1084.5" y1="190.7" x2="1095.5" y2="190.7" stroke="#111" stroke-width="1.6"/>
<line x1="1154.0" y1="229.0" x2="1154.0" y2="300.0" stroke="#111" stroke-width="1.6"/>
<line x1="1148.5" y1="229.0" x2="1159.5" y2="229.0" stroke="#111" stroke-width="1.6"/>
<line x1="1148.5" y1="300.0" x2="1159.5" y2="300.0" stroke="#111" stroke-width="1.6"/>
<line x1="1217.5" y1="202.3" x2="1217.5" y2="352.7" stroke="#111" stroke-width="1.6"/>
<line x1="1212.0" y1="202.3" x2="1223.0" y2="202.3" stroke="#111" stroke-width="1.6"/>
<line x1="1212.0" y1="352.7" x2="1223.0" y2="352.7" stroke="#111" stroke-width="1.6"/>
<line x1="1281.7" y1="316.0" x2="1281.7" y2="354.0" stroke="#111" stroke-width="1.6"/>
<line x1="1276.2" y1="316.0" x2="1287.2" y2="316.0" stroke="#111" stroke-width="1.6"/>
<line x1="1276.2" y1="354.0" x2="1287.2" y2="354.0" stroke="#111" stroke-width="1.6"/>
<ellipse cx="1086.0" cy="96.0" rx="4.0" ry="4.6" fill="#4a7d98" stroke="#111" stroke-width="1.8"/>
<ellipse cx="1094.3" cy="96.0" rx="4.0" ry="4.6" fill="#4a7d98" stroke="#111" stroke-width="1.8"/>
<ellipse cx="1073.3" cy="127.3" rx="4.0" ry="4.6" fill="#4a7d98" stroke="#111" stroke-width="1.8"/>
<ellipse cx="1081.7" cy="127.3" rx="4.0" ry="4.6" fill="#4a7d98" stroke="#111" stroke-width="1.8"/>
<ellipse cx="1090.0" cy="127.3" rx="4.0" ry="4.6" fill="#4a7d98" stroke="#111" stroke-width="1.8"/>
<ellipse cx="1098.3" cy="127.3" rx="4.0" ry="4.6" fill="#4a7d98" stroke="#111" stroke-width="1.8"/>
<ellipse cx="1106.7" cy="127.3" rx="4.0" ry="4.6" fill="#4a7d98" stroke="#111" stroke-width="1.8"/>
<ellipse cx="1098.3" cy="143.3" rx="4.0" ry="4.6" fill="#4a7d98" stroke="#111" stroke-width="1.8"/>
<ellipse cx="1090.0" cy="150.7" rx="4.0" ry="4.6" fill="#4a7d98" stroke="#111" stroke-width="1.8"/>
<ellipse cx="1098.3" cy="166.0" rx="4.0" ry="4.6" fill="#4a7d98" stroke="#111" stroke-width="1.8"/>
<ellipse cx="1090.0" cy="174.3" rx="4.0" ry="4.6" fill="#4a7d98" stroke="#111" stroke-width="1.8"/>
<ellipse cx="1081.7" cy="190.7" rx="4.0" ry="4.6" fill="#4a7d98" stroke="#111" stroke-width="1.8"/>
<ellipse cx="1098.3" cy="190.7" rx="4.0" ry="4.6" fill="#4a7d98" stroke="#111" stroke-width="1.8"/>
<ellipse cx="1090.0" cy="198.3" rx="4.0" ry="4.6" fill="#4a7d98" stroke="#111" stroke-width="1.8"/>
<ellipse cx="1090.0" cy="229.3" rx="4.0" ry="4.6" fill="#4a7d98" stroke="#111" stroke-width="1.8"/>
<ellipse cx="1154.0" cy="198.3" rx="4.0" ry="4.55" fill="#8b0000" stroke="#111" stroke-width="1.8"/>
<ellipse cx="1154.0" cy="213.3" rx="4.0" ry="4.55" fill="#8b0000" stroke="#111" stroke-width="1.8"/>
<ellipse cx="1162.3" cy="221.0" rx="4.0" ry="4.55" fill="#8b0000" stroke="#111" stroke-width="1.8"/>
<ellipse cx="1154.0" cy="229.0" rx="4.0" ry="4.55" fill="#8b0000" stroke="#111" stroke-width="1.8"/>
<ellipse cx="1162.3" cy="245.0" rx="4.0" ry="4.55" fill="#8b0000" stroke="#111" stroke-width="1.8"/>
<ellipse cx="1145.7" cy="253.3" rx="4.0" ry="4.55" fill="#8b0000" stroke="#111" stroke-width="1.8"/>
<ellipse cx="1154.0" cy="253.3" rx="4.0" ry="4.55" fill="#8b0000" stroke="#111" stroke-width="1.8"/>
<ellipse cx="1162.3" cy="268.3" rx="4.0" ry="4.55" fill="#8b0000" stroke="#111" stroke-width="1.8"/>
<ellipse cx="1154.0" cy="276.7" rx="4.0" ry="4.55" fill="#8b0000" stroke="#111" stroke-width="1.8"/>
<ellipse cx="1137.3" cy="292.3" rx="4.0" ry="4.55" fill="#8b0000" stroke="#111" stroke-width="1.8"/>
<ellipse cx="1170.7" cy="292.3" rx="4.0" ry="4.55" fill="#8b0000" stroke="#111" stroke-width="1.8"/>
<ellipse cx="1145.7" cy="298.3" rx="4.0" ry="4.55" fill="#8b0000" stroke="#111" stroke-width="1.8"/>
<ellipse cx="1154.0" cy="298.3" rx="4.0" ry="4.55" fill="#8b0000" stroke="#111" stroke-width="1.8"/>
<ellipse cx="1162.3" cy="298.3" rx="4.0" ry="4.55" fill="#8b0000" stroke="#111" stroke-width="1.8"/>
<ellipse cx="1154.0" cy="316.0" rx="4.0" ry="4.55" fill="#8b0000" stroke="#111" stroke-width="1.8"/>
<ellipse cx="1221.7" cy="151.0" rx="4.0" ry="4.6" fill="#4a7d98" stroke="#111" stroke-width="1.8"/>
<ellipse cx="1213.3" cy="159.0" rx="4.0" ry="4.6" fill="#4a7d98" stroke="#111" stroke-width="1.8"/>
<ellipse cx="1217.7" cy="197.7" rx="4.0" ry="4.6" fill="#4a7d98" stroke="#111" stroke-width="1.8"/>
<ellipse cx="1217.7" cy="221.7" rx="4.0" ry="4.6" fill="#4a7d98" stroke="#111" stroke-width="1.8"/>
<ellipse cx="1217.3" cy="261.0" rx="4.0" ry="4.6" fill="#4a7d98" stroke="#111" stroke-width="1.8"/>
<ellipse cx="1217.3" cy="316.0" rx="4.0" ry="4.6" fill="#4a7d98" stroke="#111" stroke-width="1.8"/>
<ellipse cx="1200.7" cy="331.0" rx="4.0" ry="4.6" fill="#4a7d98" stroke="#111" stroke-width="1.8"/>
<ellipse cx="1209.0" cy="331.0" rx="4.0" ry="4.6" fill="#4a7d98" stroke="#111" stroke-width="1.8"/>
<ellipse cx="1235.0" cy="331.0" rx="4.0" ry="4.6" fill="#4a7d98" stroke="#111" stroke-width="1.8"/>
<ellipse cx="1217.3" cy="339.0" rx="4.0" ry="4.6" fill="#4a7d98" stroke="#111" stroke-width="1.8"/>
<ellipse cx="1226.0" cy="339.0" rx="4.0" ry="4.6" fill="#4a7d98" stroke="#111" stroke-width="1.8"/>
<ellipse cx="1209.0" cy="347.3" rx="4.0" ry="4.6" fill="#4a7d98" stroke="#111" stroke-width="1.8"/>
<ellipse cx="1281.7" cy="300.7" rx="4.0" ry="4.55" fill="#8b0000" stroke="#111" stroke-width="1.8"/>
<ellipse cx="1281.7" cy="315.7" rx="4.0" ry="4.55" fill="#8b0000" stroke="#111" stroke-width="1.8"/>
<ellipse cx="1265.0" cy="323.3" rx="4.0" ry="4.55" fill="#8b0000" stroke="#111" stroke-width="1.8"/>
<ellipse cx="1273.3" cy="323.3" rx="4.0" ry="4.55" fill="#8b0000" stroke="#111" stroke-width="1.8"/>
<ellipse cx="1290.0" cy="323.3" rx="4.0" ry="4.55" fill="#8b0000" stroke="#111" stroke-width="1.8"/>
<ellipse cx="1298.3" cy="323.3" rx="4.0" ry="4.55" fill="#8b0000" stroke="#111" stroke-width="1.8"/>
<ellipse cx="1281.7" cy="330.7" rx="4.0" ry="4.55" fill="#8b0000" stroke="#111" stroke-width="1.8"/>
<ellipse cx="1273.3" cy="347.7" rx="4.0" ry="4.55" fill="#8b0000" stroke="#111" stroke-width="1.8"/>
<ellipse cx="1298.3" cy="347.7" rx="4.0" ry="4.55" fill="#8b0000" stroke="#111" stroke-width="1.8"/>
<ellipse cx="1281.7" cy="355.7" rx="4.0" ry="4.55" fill="#8b0000" stroke="#111" stroke-width="1.8"/>
<ellipse cx="1290.0" cy="355.7" rx="4.0" ry="4.55" fill="#8b0000" stroke="#111" stroke-width="1.8"/>
<ellipse cx="1273.3" cy="363.3" rx="4.0" ry="4.55" fill="#8b0000" stroke="#111" stroke-width="1.8"/>
<text transform="translate(1077.67 77.78) scale(0.833 1)" font-size="29.07" font-weight="bold" font-family='"DejaVu Sans", "Liberation Sans", sans-serif' letter-spacing="3.36" stroke="#000" stroke-width="0.6">****</text>
<line x1="1078.6" y1="83.2" x2="1135.3" y2="83.2" stroke="#333" stroke-width="1.9"/>
<text transform="translate(1235.16 130.06) scale(0.894 1)" font-size="27.56" font-weight="bold" font-family='"DejaVu Sans", "Liberation Sans", sans-serif' letter-spacing="0.00" stroke="#000" stroke-width="0.6">*</text>
<line x1="1212.0" y1="136.8" x2="1271.4" y2="136.8" stroke="#333" stroke-width="2.2"/>
<line x1="1047.3" y1="78.5" x2="1047.3" y2="395.3" stroke="#000" stroke-width="2.5"/>
<line x1="1035.9" y1="394.1" x2="1325.4" y2="394.1" stroke="#000" stroke-width="3.0"/>
<line x1="1090.0" y1="394.1" x2="1090.0" y2="407.6" stroke="#000" stroke-width="2.6"/>
<text transform="translate(1098.0 429.0) scale(1 1.12) rotate(-45)" font-size="21.3" font-family='"Liberation Sans", sans-serif' text-anchor="end" stroke="#000" stroke-width="0.3">SW GFP</text>
<line x1="1153.5" y1="394.1" x2="1153.5" y2="407.6" stroke="#000" stroke-width="2.6"/>
<text transform="translate(1161.5 429.0) scale(1 1.12) rotate(-45)" font-size="21.3" font-family='"Liberation Sans", sans-serif' text-anchor="end" stroke="#000" stroke-width="0.3">SW E3</text>
<line x1="1217.5" y1="394.1" x2="1217.5" y2="407.6" stroke="#000" stroke-width="2.6"/>
<text transform="translate(1225.5 429.0) scale(1 1.12) rotate(-45)" font-size="21.3" font-family='"Liberation Sans", sans-serif' text-anchor="end" stroke="#000" stroke-width="0.3">LW GFP</text>
<line x1="1281.7" y1="394.1" x2="1281.7" y2="407.6" stroke="#000" stroke-width="2.6"/>
<text transform="translate(1289.7 429.0) scale(1 1.12) rotate(-45)" font-size="21.3" font-family='"Liberation Sans", sans-serif' text-anchor="end" stroke="#000" stroke-width="0.3">LW E3</text>
<text transform="translate(1357.20 49.70) scale(0.3508 0.3558)" font-size="100" font-family='"Liberation Serif", serif' font-weight="bold" fill="#000" stroke="#000" stroke-width="0.85">E</text>
<line x1="1471.5" y1="457.8" x2="1488.4" y2="457.8" stroke="#000" stroke-width="3.8"/>
<text x="1467.0" y="467.8" font-size="29" font-family='"Liberation Serif", serif' text-anchor="end" font-weight="bold" textLength="43.0" lengthAdjust="spacingAndGlyphs" fill="#000" stroke="#000" stroke-width="0.3">350</text>
<line x1="1471.5" y1="353.5" x2="1488.4" y2="353.5" stroke="#000" stroke-width="3.8"/>
<text x="1467.0" y="363.5" font-size="29" font-family='"Liberation Serif", serif' text-anchor="end" font-weight="bold" textLength="43.0" lengthAdjust="spacingAndGlyphs" fill="#000" stroke="#000" stroke-width="0.3">355</text>
<line x1="1471.5" y1="249.2" x2="1488.4" y2="249.2" stroke="#000" stroke-width="3.8"/>
<text x="1467.0" y="259.2" font-size="29" font-family='"Liberation Serif", serif' text-anchor="end" font-weight="bold" textLength="43.0" lengthAdjust="spacingAndGlyphs" fill="#000" stroke="#000" stroke-width="0.3">360</text>
<line x1="1471.5" y1="144.9" x2="1488.4" y2="144.9" stroke="#000" stroke-width="3.8"/>
<text x="1467.0" y="154.9" font-size="29" font-family='"Liberation Serif", serif' text-anchor="end" font-weight="bold" textLength="43.0" lengthAdjust="spacingAndGlyphs" fill="#000" stroke="#000" stroke-width="0.3">365</text>
<line x1="1471.5" y1="40.6" x2="1488.4" y2="40.6" stroke="#000" stroke-width="3.8"/>
<text x="1467.0" y="50.6" font-size="29" font-family='"Liberation Serif", serif' text-anchor="end" font-weight="bold" textLength="43.0" lengthAdjust="spacingAndGlyphs" fill="#000" stroke="#000" stroke-width="0.3">370</text>
<text x="1399.7" y="335.7" font-size="29" font-family='"Liberation Serif", serif' font-weight="bold" stroke="#000" stroke-width="0.3" transform="rotate(-90 1399.7 335.7)" textLength="172.5" lengthAdjust="spacingAndGlyphs">ATP (LI) x10<tspan font-size="21" dy="-14.5">3</tspan></text>
<text transform="translate(1612.47 18.09) scale(0.2733 0.3181)" font-size="100" font-family='"Liberation Serif", serif' font-weight="bold" letter-spacing="14.5" fill="#000" stroke="#000" stroke-width="1.01">ns</text>
<line x1="1568.3" y1="35.4" x2="1686.7" y2="35.4" stroke="#000" stroke-width="1.8"/>
<line x1="1567.7" y1="127.7" x2="1567.7" y2="306.0" stroke="#8a8a8a" stroke-width="2.2"/>
<line x1="1548.3" y1="127.7" x2="1587.3" y2="127.7" stroke="#8a8a8a" stroke-width="2.2"/>
<line x1="1548.3" y1="306.0" x2="1587.3" y2="306.0" stroke="#8a8a8a" stroke-width="2.2"/>
<circle cx="1567.7" cy="62.0" r="6.6" fill="#8a8a8a"/>
<circle cx="1567.7" cy="104.0" r="6.6" fill="#8a8a8a"/>
<circle cx="1542.7" cy="120.7" r="6.6" fill="#8a8a8a"/>
<circle cx="1567.7" cy="120.7" r="6.6" fill="#8a8a8a"/>
<circle cx="1592.7" cy="132.7" r="6.6" fill="#8a8a8a"/>
<circle cx="1542.7" cy="149.3" r="6.6" fill="#8a8a8a"/>
<circle cx="1567.7" cy="158.3" r="6.6" fill="#8a8a8a"/>
<circle cx="1567.7" cy="183.3" r="6.6" fill="#8a8a8a"/>
<circle cx="1580.0" cy="200.0" r="6.6" fill="#8a8a8a"/>
<circle cx="1555.0" cy="203.3" r="6.6" fill="#8a8a8a"/>
<circle cx="1592.7" cy="225.0" r="6.6" fill="#8a8a8a"/>
<circle cx="1567.7" cy="237.3" r="6.6" fill="#8a8a8a"/>
<circle cx="1580.0" cy="254.0" r="6.6" fill="#8a8a8a"/>
<circle cx="1555.0" cy="257.3" r="6.6" fill="#8a8a8a"/>
<circle cx="1580.0" cy="287.3" r="6.6" fill="#8a8a8a"/>
<circle cx="1555.0" cy="295.0" r="6.6" fill="#8a8a8a"/>
<circle cx="1555.0" cy="308.3" r="6.6" fill="#8a8a8a"/>
<circle cx="1580.0" cy="308.3" r="6.6" fill="#8a8a8a"/>
<circle cx="1567.7" cy="358.3" r="6.6" fill="#8a8a8a"/>
<circle cx="1567.7" cy="383.3" r="6.6" fill="#8a8a8a"/>
<line x1="1528.3" y1="217.3" x2="1607.3" y2="217.3" stroke="#000" stroke-width="4.2"/>
<line x1="1686.7" y1="164.3" x2="1686.7" y2="322.3" stroke="#000" stroke-width="1.8"/>
<line x1="1668.0" y1="164.3" x2="1706.7" y2="164.3" stroke="#000" stroke-width="1.8"/>
<line x1="1666.7" y1="322.3" x2="1706.7" y2="322.3" stroke="#000" stroke-width="1.8"/>
<polygon points="1686.7,115.9 1695.8,125.0 1686.7,134.1 1677.6,125.0" fill="#dc0000"/>
<polygon points="1686.7,132.6 1695.8,141.7 1686.7,150.8 1677.6,141.7" fill="#dc0000"/>
<polygon points="1686.7,148.2 1695.8,157.3 1686.7,166.4 1677.6,157.3" fill="#dc0000"/>
<polygon points="1661.7,152.9 1670.8,162.0 1661.7,171.1 1652.6,162.0" fill="#dc0000"/>
<polygon points="1686.7,165.2 1695.8,174.3 1686.7,183.4 1677.6,174.3" fill="#dc0000"/>
<polygon points="1674.0,177.6 1683.1,186.7 1674.0,195.8 1664.9,186.7" fill="#dc0000"/>
<polygon points="1699.0,181.9 1708.1,191.0 1699.0,200.1 1689.9,191.0" fill="#dc0000"/>
<polygon points="1686.7,198.6 1695.8,207.7 1686.7,216.8 1677.6,207.7" fill="#dc0000"/>
<polygon points="1661.7,215.2 1670.8,224.3 1661.7,233.4 1652.6,224.3" fill="#dc0000"/>
<polygon points="1711.7,215.2 1720.8,224.3 1711.7,233.4 1702.6,224.3" fill="#dc0000"/>
<polygon points="1686.7,227.6 1695.8,236.7 1686.7,245.8 1677.6,236.7" fill="#dc0000"/>
<polygon points="1686.7,240.2 1695.8,249.3 1686.7,258.4 1677.6,249.3" fill="#dc0000"/>
<polygon points="1686.7,253.2 1695.8,262.3 1686.7,271.4 1677.6,262.3" fill="#dc0000"/>
<polygon points="1711.7,273.6 1720.8,282.7 1711.7,291.8 1702.6,282.7" fill="#dc0000"/>
<polygon points="1686.7,286.4 1695.8,295.5 1686.7,304.6 1677.6,295.5" fill="#dc0000"/>
<polygon points="1661.7,306.6 1670.8,315.7 1661.7,324.8 1652.6,315.7" fill="#dc0000"/>
<polygon points="1711.7,315.9 1720.8,325.0 1711.7,334.1 1702.6,325.0" fill="#dc0000"/>
<polygon points="1686.7,320.9 1695.8,330.0 1686.7,339.1 1677.6,330.0" fill="#dc0000"/>
<polygon points="1686.7,365.9 1695.8,375.0 1686.7,384.1 1677.6,375.0" fill="#dc0000"/>
<polygon points="1686.4,395.2 1695.5,404.3 1686.4,413.4 1677.3,404.3" fill="#dc0000"/>
<line x1="1647.3" y1="243.7" x2="1726.0" y2="243.7" stroke="#000" stroke-width="4.2"/>
<line x1="1488.4" y1="38.7" x2="1488.4" y2="459.7" stroke="#000" stroke-width="4.0"/>
<line x1="1471.5" y1="457.8" x2="1768.0" y2="457.8" stroke="#000" stroke-width="3.9"/>
<line x1="1567.6" y1="457.8" x2="1567.6" y2="475.5" stroke="#000" stroke-width="3.8"/>
<text x="1567.6" y="505.5" font-size="28" font-family='"Liberation Serif", serif' text-anchor="middle" font-weight="bold" textLength="83.5" lengthAdjust="spacingAndGlyphs" fill="#000" stroke="#000" stroke-width="0.3">dsGFP</text>
<line x1="1686.3" y1="457.8" x2="1686.3" y2="475.5" stroke="#000" stroke-width="3.8"/>
<text x="1686.3" y="505.5" font-size="28" font-family='"Liberation Serif", serif' text-anchor="middle" font-weight="bold" textLength="59.0" lengthAdjust="spacingAndGlyphs" fill="#000" stroke="#000" stroke-width="0.3">dsE3</text>
</g>
</svg>
</body></html>
